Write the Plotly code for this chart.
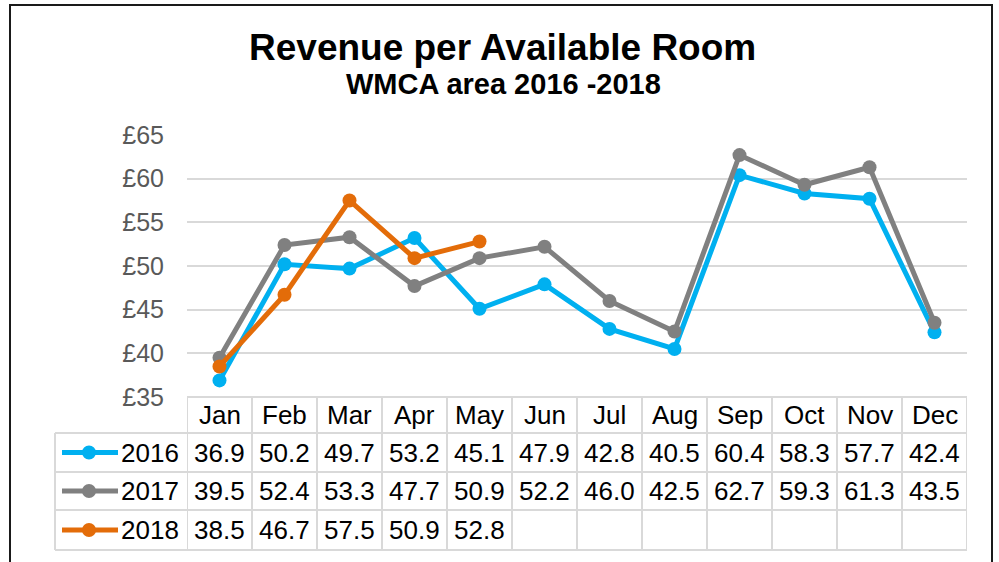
import plotly.graph_objects as go

months = ["Jan", "Feb", "Mar", "Apr", "May", "Jun", "Jul", "Aug", "Sep", "Oct", "Nov", "Dec"]
rev_2016 = [36.9, 50.2, 49.7, 53.2, 45.1, 47.9, 42.8, 40.5, 60.4, 58.3, 57.7, 42.4]
rev_2017 = [39.5, 52.4, 53.3, 47.7, 50.9, 52.2, 46.0, 42.5, 62.7, 59.3, 61.3, 43.5]
rev_2018 = [38.5, 46.7, 57.5, 50.9, 52.8]
series_names = ["2016", "2017", "2018"]
colors = ["#00B0F0", "#808080", "#E36C09"]
y_ticks = [35, 40, 45, 50, 55, 60, 65]

W, H = 999, 562
FONT = "Liberation Sans, Arial, sans-serif"


def px_x(x):
    return x / W


def px_y(y):
    return 1 - y / H


plot_left, plot_right = 187, 967
plot_top, plot_bottom = 135, 397
row_lines = [397, 433, 472, 510, 550]
legend_left = 55

fig = go.Figure()
all_series = [rev_2016, rev_2017, rev_2018]
for name, vals, col in zip(series_names, all_series, colors):
    fig.add_trace(go.Scatter(
        x=months[:len(vals)], y=vals, name=name, mode="lines+markers",
        line=dict(color=col, width=5),
        marker=dict(color=col, size=14),
        showlegend=False, hoverinfo="skip",
    ))

shapes = []
grid_col = "#D9D9D9"
# table horizontal lines
shapes.append(dict(type="line", xref="paper", yref="paper",
                   x0=px_x(plot_left), x1=px_x(plot_right),
                   y0=px_y(row_lines[0]), y1=px_y(row_lines[0]),
                   line=dict(color=grid_col, width=2)))
for ry in row_lines[1:]:
    shapes.append(dict(type="line", xref="paper", yref="paper",
                       x0=px_x(legend_left), x1=px_x(plot_right),
                       y0=px_y(ry), y1=px_y(ry),
                       line=dict(color=grid_col, width=2)))
# table vertical lines (column boundaries via x axis)
for i in range(len(months) + 1):
    shapes.append(dict(type="line", xref="x", yref="paper",
                       x0=i - 0.5, x1=i - 0.5,
                       y0=px_y(row_lines[0]), y1=px_y(row_lines[-1]),
                       line=dict(color=grid_col, width=2)))
shapes.append(dict(type="line", xref="paper", yref="paper",
                   x0=px_x(legend_left), x1=px_x(legend_left),
                   y0=px_y(row_lines[1]), y1=px_y(row_lines[-1]),
                   line=dict(color=grid_col, width=2)))
# outer frame
shapes.append(dict(type="rect", xref="paper", yref="paper",
                   x0=px_x(10), x1=px_x(992), y0=px_y(600), y1=px_y(5),
                   line=dict(color="#1a1a1a", width=2), layer="above"))

annotations = []
# title
annotations.append(dict(text="<b>Revenue per Available Room</b>", xref="paper", yref="paper",
                        x=px_x(502), y=px_y(47), showarrow=False,
                        font=dict(family=FONT, size=37, color="black"),
                        xanchor="center", yanchor="middle"))
annotations.append(dict(text="<b>WMCA area 2016 -2018</b>", xref="paper", yref="paper",
                        x=px_x(503), y=px_y(84), showarrow=False,
                        font=dict(family=FONT, size=29, color="black"),
                        xanchor="center", yanchor="middle"))
# header row
header_c = (row_lines[0] + row_lines[1]) / 2
for m in months:
    annotations.append(dict(text=m, xref="x", yref="paper", x=m, y=px_y(header_c),
                            showarrow=False, xanchor="center", yanchor="middle",
                            font=dict(family=FONT, size=26, color="black")))
# data rows
for r, (name, vals, col) in enumerate(zip(series_names, all_series, colors)):
    cy = (row_lines[r + 1] + row_lines[r + 2]) / 2
    for m, v in zip(months, vals):
        annotations.append(dict(text=f"{v:.1f}", xref="x", yref="paper", x=m, y=px_y(cy),
                                showarrow=False, xanchor="center", yanchor="middle",
                                font=dict(family=FONT, size=26, color="black")))
    annotations.append(dict(text=name, xref="paper", yref="paper", x=px_x(119), y=px_y(cy),
                            showarrow=False, xanchor="left", yanchor="middle",
                            font=dict(family=FONT, size=26, color="black")))
    # legend key
    shapes.append(dict(type="line", xref="paper", yref="paper",
                       x0=px_x(62), x1=px_x(118), y0=px_y(cy), y1=px_y(cy),
                       line=dict(color=col, width=5)))
    shapes.append(dict(type="circle", xref="paper", yref="paper",
                       x0=px_x(82), x1=px_x(96), y0=px_y(cy + 7), y1=px_y(cy - 7),
                       fillcolor=col, line=dict(color=col, width=0)))

fig.update_layout(
    width=W, height=H,
    margin=dict(l=0, r=0, t=0, b=0, pad=0, autoexpand=False),
    paper_bgcolor="white", plot_bgcolor="white",
    showlegend=False,
    xaxis=dict(domain=[px_x(plot_left), px_x(plot_right)], type="category",
               categoryorder="array", categoryarray=months,
               range=[-0.5, 11.5], showticklabels=False, showgrid=False,
               zeroline=False, showline=False, fixedrange=True, automargin=False),
    yaxis=dict(domain=[px_y(plot_bottom), px_y(plot_top)], range=[35, 65],
               tickvals=y_ticks, ticktext=[f"£{t}" for t in y_ticks],
               showgrid=True, gridcolor=grid_col, gridwidth=2,
               zeroline=False, showline=False, ticks="",
               ticklabelstandoff=22, automargin=False,
               tickfont=dict(family=FONT, size=25, color="#595959"), fixedrange=True),
    shapes=shapes, annotations=annotations,
    font=dict(family=FONT),
)

fig.write_html("out.html")
